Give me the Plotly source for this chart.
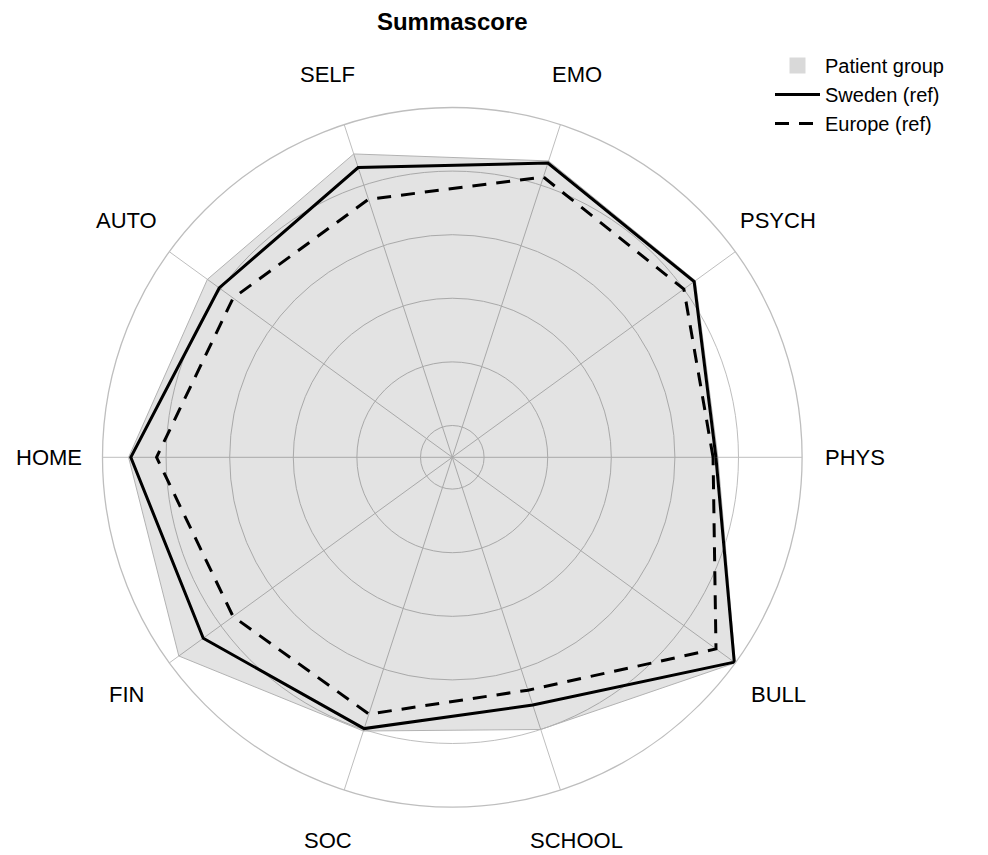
import math
import plotly.graph_objects as go

categories = ["PHYS", "PSYCH", "EMO", "SELF", "AUTO", "HOME", "FIN", "SOC", "SCHOOL", "BULL"]
patient = [73.5, 84.5, 88.0, 90.3, 85.2, 91.8, 96.3, 80.5, 80.0, 100.0]
sweden = [72.9, 84.0, 87.3, 85.8, 80.6, 91.1, 86.8, 79.7, 71.9, 99.6]
europe = [72.0, 80.0, 82.7, 75.3, 75.2, 83.0, 75.2, 74.9, 67.0, 92.5]
grid_vals = [0, 20, 40, 60, 80, 100]

W, H = 988, 855
CX, CY, R = 452.3, 457.3, 349.8
LABEL_R = 403
FONT = "Liberation Sans, Arial, sans-serif"
GRID = "rgb(190,190,190)"

def closed(v):
    return list(v) + [v[0]]

fig = go.Figure()
fig.add_trace(go.Scatterpolar(
    r=closed(patient), theta=closed(categories), mode="lines", fill="toself",
    fillcolor="rgba(0,0,0,0.11)", line=dict(color="rgb(178,178,178)", width=1),
    name="Patient group", showlegend=False))
fig.add_trace(go.Scatterpolar(
    r=[None], theta=[None], mode="markers", name="Patient group",
    marker=dict(symbol="square", size=16, color="rgb(217,217,217)")))
fig.add_trace(go.Scatterpolar(
    r=closed(sweden), theta=closed(categories), mode="lines",
    line=dict(color="black", width=3), name="Sweden (ref)"))
fig.add_trace(go.Scatterpolar(
    r=closed(europe), theta=closed(categories), mode="lines",
    line=dict(color="black", width=3, dash="14px,10px"), name="Europe (ref)"))

annotations = []
n = len(categories)
for i, c in enumerate(categories):
    a = math.radians(360 * i / n)
    px = CX + LABEL_R * math.cos(a)
    py = CY - LABEL_R * math.sin(a)
    annotations.append(dict(x=px / W, y=1 - py / H, xref="paper", yref="paper",
                            text=c, showarrow=False, xanchor="center", yanchor="middle",
                            font=dict(family=FONT, size=22, color="black")))

fig.update_layout(
    width=W, height=H,
    margin=dict(l=0, r=0, t=0, b=0),
    paper_bgcolor="white",
    title=dict(text="<b>Summascore</b>", x=CX / W, xanchor="center", y=1 - 22 / H, yanchor="middle",
               font=dict(family=FONT, size=24, color="black")),
    polar=dict(
        domain=dict(x=[(CX - R) / W, (CX + R) / W], y=[1 - (CY + R) / H, 1 - (CY - R) / H]),
        bgcolor="white",
        radialaxis=dict(range=[-10, 100], tickvals=grid_vals, showticklabels=False, ticks="",
                        showline=False, gridcolor=GRID, gridwidth=1.3),
        angularaxis=dict(rotation=0, direction="counterclockwise", categoryorder="array",
                         categoryarray=categories, showticklabels=False, ticks="",
                         showline=True, linecolor=GRID, linewidth=1.3, gridcolor=GRID, gridwidth=1.3),
    ),
    legend=dict(x=770 / W, xanchor="left", y=1 - 46 / H, yanchor="top",
                font=dict(family=FONT, size=20, color="black"), itemwidth=45,
                bgcolor="rgba(0,0,0,0)", tracegroupgap=0),
    annotations=annotations,
)

fig.write_html("out.html", config={"displayModeBar": False},
               post_script="document.body.style.margin='0';document.body.style.overflow='hidden';")
